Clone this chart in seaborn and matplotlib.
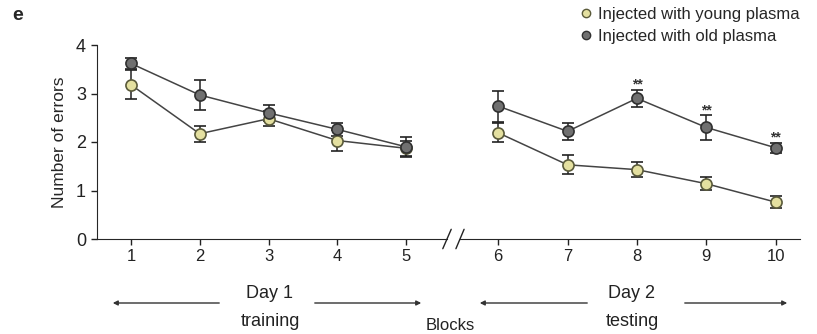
import numpy as np
import pandas as pd
import matplotlib
matplotlib.use("Agg")
import matplotlib.pyplot as plt
from matplotlib.lines import Line2D
import seaborn as sns

# values (mean +/- SEM)
blocks = [1, 2, 3, 4, 5, 6, 7, 8, 9, 10]
young_mean = [3.18, 2.17, 2.48, 2.03, 1.87, 2.19, 1.53, 1.43, 1.14, 0.76]
young_err = [0.30, 0.17, 0.15, 0.22, 0.15, 0.20, 0.20, 0.15, 0.13, 0.12]
old_mean = [3.62, 2.97, 2.60, 2.26, 1.90, 2.74, 2.22, 2.90, 2.30, 1.88]
old_err = [0.12, 0.30, 0.16, 0.13, 0.20, 0.32, 0.18, 0.18, 0.25, 0.10]
sig_blocks = [8, 9, 10]
groups = ["Injected with young plasma", "Injected with old plasma"]

df = pd.concat([
    pd.DataFrame({"block": blocks, "errors": young_mean, "sem": young_err, "group": groups[0]}),
    pd.DataFrame({"block": blocks, "errors": old_mean, "sem": old_err, "group": groups[1]}),
])
df["day"] = np.where(df["block"] <= 5, 1, 2)

sns.set_style("ticks")
plt.rcParams["font.family"] = ["Liberation Sans", "DejaVu Sans"]

face = {groups[0]: "#e4e0a0", groups[1]: "#707070"}
edge = {groups[0]: "#5a5a3a", groups[1]: "#303030"}
line_col = "#444444"

fig = plt.figure(figsize=(8.17, 3.34), dpi=100)
W, H = 817, 334
bot, top = 239, 45
ax1 = fig.add_axes([96.5 / W, 1 - bot / H, (447 - 96.5) / W, (bot - top) / H])
ax2 = fig.add_axes([460 / W, 1 - bot / H, (800 - 460) / W, (bot - top) / H])

for ax, day in [(ax1, 1), (ax2, 2)]:
    sub = df[df["day"] == day]
    sns.lineplot(data=sub, x="block", y="errors", hue="group", palette={g: line_col for g in groups},
                 legend=False, lw=1.1, ax=ax, zorder=2)
    for g in groups:
        s = sub[sub["group"] == g]
        ax.errorbar(s["block"], s["errors"], yerr=s["sem"], fmt="o", ms=8, mfc=face[g], mec=edge[g],
                    mew=1.2, ecolor="#222222", elinewidth=1.1, capsize=4, capthick=1.1, zorder=3)
    ax.set_ylim(0, 4)
    ax.set_xlabel("")
    ax.set_ylabel("")
    ax.tick_params(labelsize=12, length=4, width=1, colors="#222222")
    for sp in ["top", "right"]:
        ax.spines[sp].set_visible(False)

ax1.set_xlim(0.5, 5.594)
ax1.set_xticks(blocks[:5])
ax1.set_yticks([0, 1, 2, 3, 4])
ax1.tick_params(axis="y", labelsize=13)
ax1.set_ylabel("Number of errors", fontsize=12.5)
ax1.yaxis.set_label_coords(-0.084, 0.5)

ax2.set_xlim(5.45, 10.35)
ax2.set_xticks(blocks[5:])
ax2.spines["left"].set_visible(False)
ax2.tick_params(axis="y", left=False, labelleft=False)

# significance stars
old = df[df["group"] == groups[1]].set_index("block")
for b in sig_blocks:
    ax2.text(b, old.loc[b, "errors"] + old.loc[b, "sem"] - 0.04, "**", ha="center", va="bottom",
             fontsize=10, fontweight="bold", color="#333333")

# axis break marks
for xa, ax in [(1.0, ax1), (0.0, ax2)]:
    ax.plot([xa - 0.012, xa + 0.012], [-0.05, 0.05], transform=ax.transAxes, color="#222222",
            lw=1, clip_on=False)

# legend
handles = [Line2D([], [], ls="", marker="o", ms=6, mfc=face[g], mec=edge[g], mew=1) for g in groups]
fig.legend(handles, groups, loc="upper left", bbox_to_anchor=(566 / W, 1.02), frameon=False,
           fontsize=12, handlelength=0.8, handletextpad=0.35, labelspacing=0.45, borderpad=0.3)

fig.text(12 / W, 1 - 15 / H, "e", fontsize=14, fontweight="bold", ha="left", va="center")

# day annotations
def arrow(x0, x1, y=303):
    fig.add_artist(matplotlib.patches.FancyArrowPatch((x0 / W, 1 - y / H), (x1 / W, 1 - y / H),
                   transform=fig.transFigure, arrowstyle="-|>", mutation_scale=7, lw=1,
                   color="#333333"))

arrow(222, 110)
arrow(312, 424)
arrow(590, 477)
arrow(682, 790)
for x, t1, t2 in [(270, "Day 1", "training"), (632, "Day 2", "testing")]:
    fig.text(x / W, 1 - 294 / H, t1, fontsize=13, ha="center", va="center", color="#222222")
    fig.text(x / W, 1 - 322 / H, t2, fontsize=13, ha="center", va="center", color="#222222")
fig.text(450 / W, 1 - 326 / H, "Blocks", fontsize=12, ha="center", va="center", color="#222222")

fig.savefig("out.png", dpi=100)
